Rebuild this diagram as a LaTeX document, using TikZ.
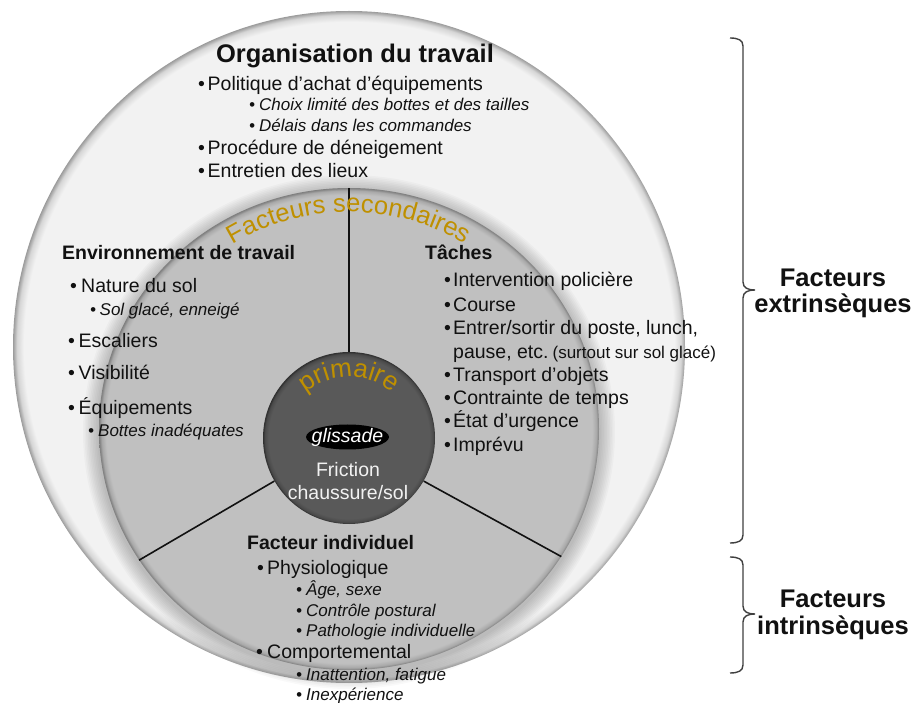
\documentclass[tikz,border=0pt]{standalone}
\usepackage{fontspec}
\setmainfont{Liberation Sans}
\usetikzlibrary{shapes.geometric,decorations.text,calc}

\definecolor{ink}{HTML}{111111}
\definecolor{gold}{HTML}{BF9000}
\definecolor{ringfill}{HTML}{F2F2F2}
\definecolor{ringmid}{HTML}{D6D6D6}
\definecolor{ringedge}{HTML}{9C9C9C}
\definecolor{secfill}{HTML}{C0C0C0}
\definecolor{secmid}{HTML}{A8A8A8}
\definecolor{secedge}{HTML}{7E7E7E}
\definecolor{primfill}{HTML}{595959}
\definecolor{primmid}{HTML}{4A4A4A}
\definecolor{primedge}{HTML}{2E2E2E}
\definecolor{bracecol}{HTML}{404040}
\definecolor{paletext}{HTML}{F2F2F2}

% rims of the three discs: flat fill with a darker soft border
\pgfdeclareradialshading{outershade}{\pgfpoint{0bp}{0bp}}{%
  color(0bp)=(ringfill); color(24.2bp)=(ringfill); color(24.7bp)=(ringmid);
  color(25bp)=(ringedge); color(50bp)=(ringedge)}
\pgfdeclareradialshading{secshade}{\pgfpoint{0bp}{0bp}}{%
  color(0bp)=(secfill); color(24.3bp)=(secfill); color(24.75bp)=(secmid);
  color(25bp)=(secedge); color(50bp)=(secedge)}
\pgfdeclareradialshading{primshade}{\pgfpoint{0bp}{0bp}}{%
  color(0bp)=(primfill); color(23.4bp)=(primfill); color(24.5bp)=(primmid);
  color(25bp)=(primedge); color(50bp)=(primedge)}

\newcommand\bul[1]{\makebox[#1pt][l]{•}}

\tikzset{
  body/.style={anchor=base west, inner sep=0pt, text=ink,
    font=\fontsize{19.5}{23}\selectfont},
  subitem/.style={anchor=base west, inner sep=0pt, text=ink,
    font=\fontsize{17}{20}\selectfont\itshape},
  head/.style={anchor=base west, inner sep=0pt, text=ink,
    font=\fontsize{19.5}{23}\selectfont\bfseries},
  sidelabel/.style={anchor=base, inner sep=0pt, text=ink,
    font=\fontsize{25.5}{28}\selectfont\bfseries},
  divider/.style={draw=ink, line width=1.6pt},
  bracket/.style={draw=bracecol, line width=1.4pt},
}

\begin{document}
\begin{tikzpicture}[x=1pt, y=-1pt]
\useasboundingbox[fill=white] (0,0) rectangle (914,703);

% outer disc: organisation of work
\shade[shading=outershade] (349,347) circle[radius=336pt];

% soft shadow under the secondary-factor disc
\foreach \k in {1,...,10}{
  \fill[black, opacity=0.022] (349,432) ellipse[x radius={(250+\k*1.6)*1pt}, y radius={(241+\k*1.6)*1pt}];
}
% secondary-factor disc
\shade[shading=secshade] (349,429) ellipse[x radius=250pt, y radius=241pt];
\node[ellipse, minimum width=500pt, minimum height=482pt, inner sep=0pt] (sec) at (349,429) {};

% primary-factor disc
\node[circle, minimum size=172pt, inner sep=0pt] (prim) at (349,438) {};

% three sectors
\draw[divider] (prim.90) -- (sec.90);
\draw[divider] (prim.210) -- (sec.212);
\draw[divider] (prim.330) -- (sec.329);

\shade[shading=primshade] (349,438) circle[radius=86pt];

% slip label
\fill[black] (347.5,437) ellipse[x radius=41.5pt, y radius=12.5pt];
\node[inner sep=0pt, text=white, font=\fontsize{19.5}{23}\selectfont\itshape] (gl) at (347.5,437) {glissade};
\node[anchor=base, inner sep=0pt, text=paletext, font=\fontsize{19.5}{23}\selectfont] (fric) at (348,477) {Friction};
\node[anchor=base, inner sep=0pt, text=paletext, font=\fontsize{19.5}{23}\selectfont] (chau) at (348,500) {chaussure/sol};

% curved titles
\path[decorate, decoration={text along path, text align=center,
  text={|\fontsize{26}{30}\selectfont\color{gold}|primaire}}]
  (290.1,411) arc[start angle=150, end angle=30, radius=68pt];
\path[decorate, decoration={text along path, text align=center,
  text={|\fontsize{25.5}{30}\selectfont\color{gold}|Facteurs secondaires}}]
  (137.6,360) arc[start angle=160, end angle=20, radius=225pt];

% organisation of work
\node[anchor=base, inner sep=0pt, text=ink, font=\fontsize{25.5}{28}\selectfont\bfseries] (org) at (355,63) {Organisation du travail};
\node[body] (t1) at (198,91) {\bul{9.5}Politique d’achat d’équipements};
\node[subitem] (t2) at (249,111) {\bul{10}Choix limité des bottes et des tailles};
\node[subitem] (t3) at (249,132) {\bul{10}Délais dans les commandes};
\node[body] (t4) at (198,155) {\bul{9.5}Procédure de déneigement};
\node[body] (t5) at (198,178) {\bul{9.5}Entretien des lieux};

% work environment
\node[head] (envh) at (62,260) {Environnement de travail};
\node[body] (e1) at (70,293) {\bul{11}Nature du sol};
\node[subitem] (e2) at (90,316) {\bul{9.5}Sol glacé, enneigé};
\node[body] (e3) at (68,348) {\bul{10.5}Escaliers};
\node[body] (e4) at (68,380) {\bul{10.5}Visibilité};
\node[body] (e5) at (68,415) {\bul{10.5}Équipements};
\node[subitem] (e6) at (88,437) {\bul{10}Bottes inadéquates};

% tasks
\node[head] (tach) at (425,260) {Tâches};
\node[body] (r1) at (444,287) {\bul{9}Intervention policière};
\node[body] (r2) at (444,312) {\bul{9}Course};
\node[body] (r3) at (444,335) {\bul{9}Entrer/sortir du poste, lunch,};
\node[body] (r4) at (453,359) {pause, etc.\kern4pt{\fontsize{17}{20}\selectfont(surtout sur sol glacé)}};
\node[body] (r5) at (444,382) {\bul{9}Transport d’objets};
\node[body] (r6) at (444,405) {\bul{9}Contrainte de temps};
\node[body] (r7) at (444,428) {\bul{9}État d’urgence};
\node[body] (r8) at (444,452) {\bul{9}Imprévu};

% individual factor
\node[head] (indh) at (247,549) {Facteur individuel};
\node[body] (b1) at (257,574) {\bul{10}Physiologique};
\node[subitem] (b2) at (296,595) {\bul{10}Âge, sexe};
\node[subitem] (b3) at (296,616) {\bul{10}Contrôle postural};
\node[subitem] (b4) at (296,636) {\bul{10}Pathologie individuelle};
\node[body] (b5) at (256,658) {\bul{11}Comportemental};
\node[subitem] (b6) at (296,680) {\bul{10}Inattention, fatigue};
\node[subitem] (b7) at (296,700) {\bul{10}Inexpérience};

% braces and their labels
\coordinate (x1t) at (730,38);
\coordinate (x1b) at (730,543);
\coordinate (i1t) at (730,557);
\coordinate (i1b) at (730,673);
\draw[bracket] (x1t) .. controls (738,38) and (743,40) .. (743,46)
  -- (743,282) .. controls (743,288) and (748,290) .. (755,290)
  .. controls (748,290) and (743,292) .. (743,298)
  -- (743,535) .. controls (743,541) and (738,543) .. (x1b);
\draw[bracket] (i1t) .. controls (738,557) and (743,559) .. (743,565)
  -- (743,606) .. controls (743,612) and (748,614) .. (755,614)
  .. controls (748,614) and (743,616) .. (743,622)
  -- (743,665) .. controls (743,671) and (738,673) .. (i1b);

\node[sidelabel] (ext1) at (833,287) {Facteurs};
\node[sidelabel] (ext2) at (833,313) {extrinsèques};
\node[sidelabel] (int1) at (833,607) {Facteurs};
\node[sidelabel] (int2) at (833,634) {intrinsèques};
\end{tikzpicture}
\end{document}
